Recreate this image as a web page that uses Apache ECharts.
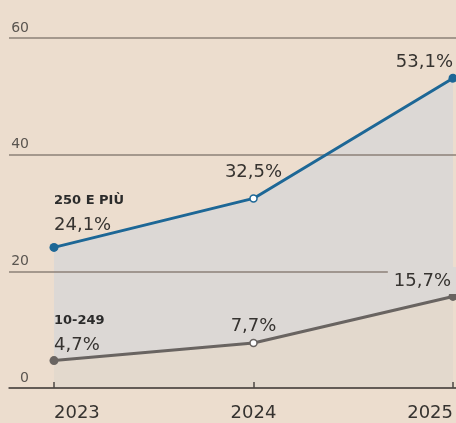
<!DOCTYPE html>
<html lang="it">
<head>
    <meta charset="UTF-8">
    <title>Imprese - grafico</title>
    <style>
        html, body { margin: 0; padding: 0; background: #ecddce; }
        #main { width: 456px; height: 423px; }
    </style>
</head>
<body>
<div id="main"></div>
<script src="https://cdn.jsdelivr.net/npm/echarts@6/dist/echarts.min.js"></script>
<script type="text/javascript">
    // dati
    var anni = ['2023', '2024', '2025'];
    var grandi = [24.1, 32.5, 53.1];   // 250 e più
    var piccole = [4.7, 7.7, 15.7];    // 10-249
    var nomi = ['250 E PIÙ', '10-249'];
    var yTicks = [0, 20, 40, 60];

    var font = '"DejaVu Sans", sans-serif';

    function fmt(v) {
        return v.toFixed(1).replace('.', ',') + '%';
    }

    // distanza etichetta dal punto, per indice
    function buildData(values, name, color, dist) {
        return values.map(function (v, i) {
            var last = i === values.length - 1;
            var mid = i > 0 && !last;
            // l'ultima etichetta bassa copre la linea dei 20
            var box = last && v < 20;
            return {
                value: v,
                symbolSize: mid ? 7 : 9,
                itemStyle: mid ? {color: '#ffffff', borderColor: color, borderWidth: 1.5} : {color: color},
                label: {
                    show: true,
                    position: 'top',
                    distance: dist[i],
                    offset: box ? [3, 5] : [0, 5],
                    align: i === 0 ? 'left' : (last ? 'right' : 'center'),
                    formatter: i === 0 ? '{n|' + name + '}\n{v|' + fmt(v) + '}' : '{v|' + fmt(v) + '}',
                    backgroundColor: box ? '#dcd8d5' : 'transparent',
                    padding: box ? [2, 5, 0, 6] : 0,
                    rich: {
                        n: {fontFamily: font, fontWeight: 'bold', fontSize: 13, color: '#2b2b2b', lineHeight: 25},
                        v: {fontFamily: font, fontSize: 18, color: '#363330', lineHeight: 25}
                    }
                }
            };
        });
    }

    var blu = '#1d6796';
    var grigio = '#696461';

    var myChart = echarts.init(document.getElementById('main'));
    var option = {
        backgroundColor: '#ecddce',
        animation: false,
        grid: [
            {left: 9, right: 0, top: 38, bottom: 35},
            {left: 54, right: 3, top: 38, bottom: 35}
        ],
        xAxis: [
            {
                gridIndex: 0,
                type: 'category',
                data: anni,
                boundaryGap: false,
                axisLine: {show: true, lineStyle: {color: '#4d4844', width: 1.5}},
                axisTick: {show: false},
                axisLabel: {show: false},
                splitLine: {show: false},
                z: 2
            },
            {
                gridIndex: 1,
                type: 'category',
                data: anni,
                boundaryGap: false,
                axisLine: {show: false},
                axisTick: {show: true, inside: true, length: 6, lineStyle: {color: '#4d4844', width: 1.5}},
                axisLabel: {
                    margin: 16,
                    fontFamily: font,
                    fontSize: 18,
                    color: '#363330',
                    alignMinLabel: 'left',
                    alignMaxLabel: 'right'
                },
                z: 2
            }
        ],
        yAxis: [
            {
                gridIndex: 0,
                type: 'value',
                min: yTicks[0],
                max: yTicks[yTicks.length - 1],
                interval: 20,
                axisLine: {show: false},
                axisTick: {show: false},
                axisLabel: {
                    inside: true,
                    margin: 20,
                    align: 'right',
                    verticalAlign: 'bottom',
                    padding: [0, 0, 3, 0],
                    fontFamily: font,
                    fontSize: 14,
                    color: '#5a5550'
                },
                splitLine: {show: true, lineStyle: {color: '#8c8177', width: 1.5}},
                z: 2
            },
            {
                gridIndex: 1,
                type: 'value',
                min: yTicks[0],
                max: yTicks[yTicks.length - 1],
                interval: 20,
                show: false
            }
        ],
        series: [
            // aree (sotto le linee di griglia)
            {
                type: 'line',
                xAxisIndex: 1,
                yAxisIndex: 1,
                data: grandi,
                symbol: 'none',
                lineStyle: {width: 0},
                areaStyle: {color: '#dcd8d5', opacity: 1},
                z: 1,
                silent: true
            },
            {
                type: 'line',
                xAxisIndex: 1,
                yAxisIndex: 1,
                data: piccole,
                symbol: 'none',
                lineStyle: {width: 0},
                areaStyle: {color: '#e3d9cd', opacity: 1},
                z: 1,
                silent: true
            },
            // linee con etichette
            {
                name: nomi[0],
                type: 'line',
                xAxisIndex: 1,
                yAxisIndex: 1,
                data: buildData(grandi, nomi[0], blu, [10, 14, 4]),
                symbol: 'circle',
                lineStyle: {color: blu, width: 3},
                z: 5
            },
            {
                name: nomi[1],
                type: 'line',
                xAxisIndex: 1,
                yAxisIndex: 1,
                data: buildData(piccole, nomi[1], grigio, [3, 5, 3]),
                symbol: 'circle',
                lineStyle: {color: grigio, width: 3},
                z: 5
            }
        ]
    };
    myChart.setOption(option);
</script>
</body>
</html>
